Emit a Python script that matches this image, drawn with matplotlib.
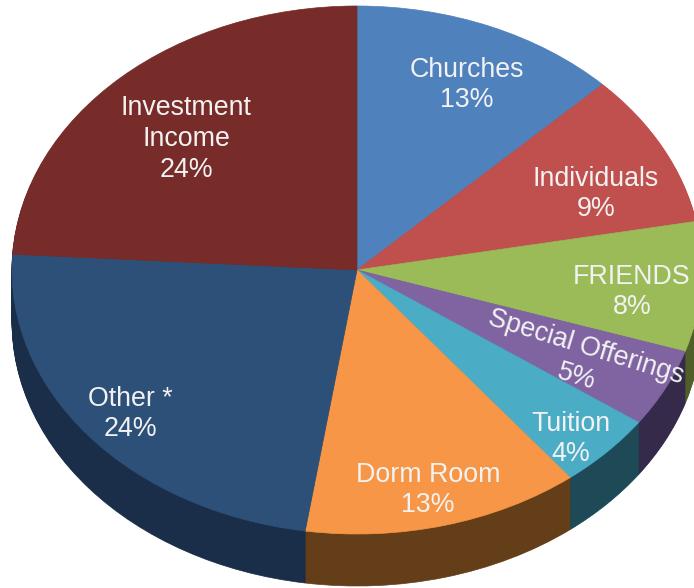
import numpy as np
import matplotlib
matplotlib.use("Agg")
import matplotlib.pyplot as plt

plt.rcParams["font.family"] = ["Liberation Sans", "DejaVu Sans"]

# slice shares as measured on the picture, printed labels are the rounded ones
names = ["Churches", "Individuals", "FRIENDS", "Special Offerings",
         "Tuition", "Dorm Room", "Other *", "Investment\nIncome"]
shares = [12.6, 9.45, 7.95, 4.8, 4.6, 13.0, 23.55, 24.05]
printed = ["13%", "9%", "8%", "5%", "4%", "13%", "24%", "24%"]

top_colors = ["#4f81bd", "#c0504d", "#9bbb59", "#8064a2",
              "#4bacc6", "#f79646", "#2d5078", "#772c2a"]
side_colors = ["#2a4566", "#682b29", "#4f5f2a", "#362a4b",
               "#1d4a56", "#633e18", "#1a2d49", "#3f1716"]

W, H = 694, 588
CX, CY, RX, RY = 357, 270, 345, 264
DEPTH = 52

# label centres in pixels: x, y of the block, rotation
label_pos = [(467, 85, 0), (596, 194, 0), (632, 292, 0), (581, 362, -17),
             (571, 439, 0), (428, 490, 0), (130, 414, 0), (186, 139, 0)]


def to_x(px):
    return (px - CX) / RX


def to_y(py):
    return (CY - py) / RY


def draw_pie(ax, colors, offset):
    wedges, _ = ax.pie(shares, colors=colors, startangle=90, counterclock=False,
                       center=(0, offset), radius=1)
    # same colour edge so no white hairlines show between slices
    for w, c in zip(wedges, colors):
        w.set_edgecolor(c)
        w.set_linewidth(0.5)


fig = plt.figure(figsize=(W / 100, H / 100), dpi=100)
ax = fig.add_axes([0, 0, 1, 1])

# side wall: stack of darker pies going down, then the top on it
for d in range(DEPTH, 0, -1):
    draw_pie(ax, side_colors, -d / RY)
draw_pie(ax, top_colors, 0)

ax.set_aspect("auto")
ax.set_xlim(to_x(0), to_x(W))
ax.set_ylim(to_y(H), to_y(0))
ax.axis("off")

for name, pct, (px, py, rot) in zip(names, printed, label_pos):
    ax.text(to_x(px), to_y(py), name + "\n" + pct, ha="center", va="center",
            fontsize=19.3, color="#f2f2f2", rotation=rot, linespacing=1.23,
            rotation_mode="anchor")

fig.savefig("out.png", dpi=100, facecolor="white")
